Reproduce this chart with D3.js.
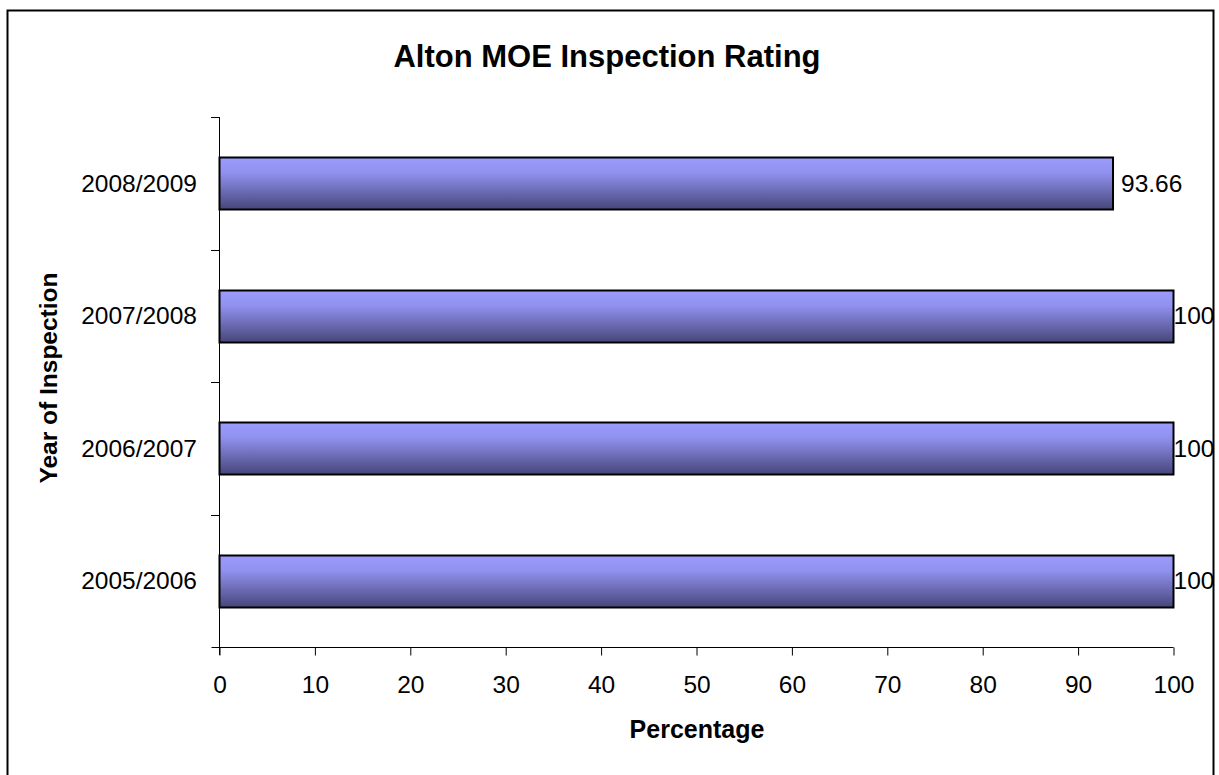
<!DOCTYPE html>
<html><head><meta charset="utf-8">
<script src="https://cdn.jsdelivr.net/npm/d3@7"></script>
<style>body{margin:0;background:#fff;}svg{display:block;font-family:"Liberation Sans",Arial,sans-serif;}</style>
</head><body>
<script>
const categories = ["2005/2006","2006/2007","2007/2008","2008/2009"];
const values = [100,100,100,93.66];
const xTicks = [0,10,20,30,40,50,60,70,80,90,100];

const W=1219,H=775;
const FS=24.5;
const svg=d3.select("body").append("svg").attr("width",W).attr("height",H);
svg.append("rect").attr("x",7.5).attr("y",10.5).attr("width",1206).attr("height",780).attr("fill","#fff").attr("stroke","#000").attr("stroke-width",2);

const defs=svg.append("defs");
const g=defs.append("linearGradient").attr("id","bg").attr("x1",0).attr("y1",0).attr("x2",0).attr("y2",1);
g.append("stop").attr("offset","0%").attr("stop-color","#9c9cff");
g.append("stop").attr("offset","30%").attr("stop-color","#9090ee");
g.append("stop").attr("offset","100%").attr("stop-color","#46467a");

const x=d3.scaleLinear().domain([0,100]).range([219.5,1173.5]);

const xa=svg.append("g").attr("transform","translate(0,647.5)").call(d3.axisBottom(x).tickValues(xTicks).tickSize(8).tickSizeOuter(0).tickPadding(0));
xa.select(".domain").attr("d",`M${x(0)-8},0H${x(100)}`).attr("stroke","#000");
xa.selectAll("text").attr("font-size",FS).attr("fill","#000").attr("font-family","Liberation Sans, Arial").attr("dy",null).attr("y",45.5);

const yc=d3.scaleBand().domain(categories.slice().reverse()).range([117,647]);
const ya=svg.append("g");
ya.append("line").attr("x1",219.5).attr("x2",219.5).attr("y1",117).attr("y2",655).attr("stroke","#000");
ya.selectAll("line.t").data(categories.slice().reverse()).join("line").attr("class","t")
  .attr("x1",211).attr("x2",219.5).attr("y1",d=>Math.round(yc(d))+0.5).attr("y2",d=>Math.round(yc(d))+0.5).attr("stroke","#000");
ya.selectAll("text").data(categories).join("text")
  .attr("x",197).attr("y",d=>yc(d)+yc.bandwidth()/2).attr("dy","0.35em")
  .attr("text-anchor","end").attr("font-size",FS).text(d=>d);

const bh=52;
svg.selectAll("rect.bar").data(categories).join("rect").attr("class","bar")
  .attr("x",x(0)).attr("y",d=>Math.round(yc(d)+yc.bandwidth()/2-bh/2)+0.5)
  .attr("width",(d,i)=>x(values[i])-x(0)).attr("height",bh)
  .attr("fill","url(#bg)").attr("stroke","#000").attr("stroke-width",2);

svg.selectAll("text.lab").data(categories).join("text").attr("class","lab")
  .attr("x",(d,i)=>x(values[i])+(values[i]<100?8:0)).attr("y",d=>yc(d)+yc.bandwidth()/2).attr("dy","0.35em")
  .attr("font-size",FS).text((d,i)=>values[i]);

svg.append("text").attr("x",607).attr("y",67).attr("text-anchor","middle").attr("font-size",31).attr("font-weight","bold").text("Alton MOE Inspection Rating");
svg.append("text").attr("x",697).attr("y",738).attr("text-anchor","middle").attr("font-size",25).attr("font-weight","bold").text("Percentage");
svg.append("text").attr("transform","translate(57,378) rotate(-90)").attr("text-anchor","middle").attr("font-size",24.5).attr("font-weight","bold").text("Year of Inspection");
</script>
</body></html>
